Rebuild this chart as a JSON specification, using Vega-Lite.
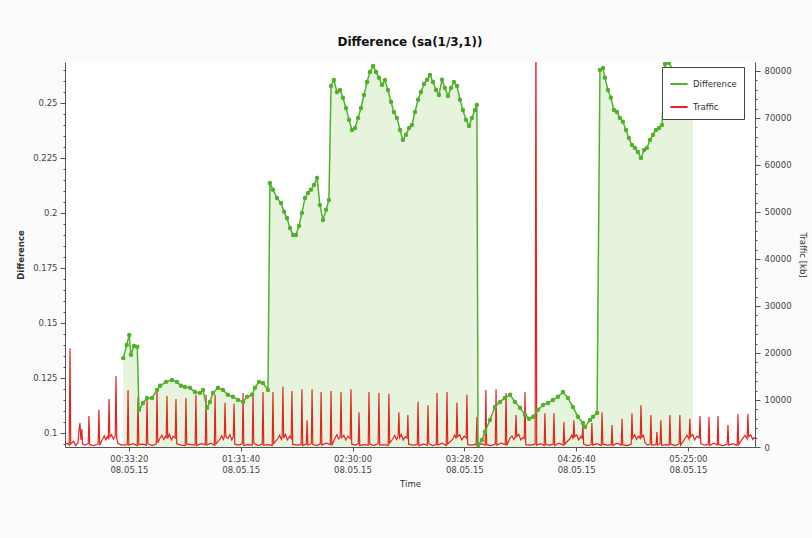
{
  "$schema": "https://vega.github.io/schema/vega-lite/v6.json",
  "autosize": {"type": "none"},
  "width": 690,
  "height": 385,
  "padding": {"left": 65, "top": 62, "right": 57, "bottom": 91},
  "background": "#fbfbfb",
  "title": {"text": "Difference (sa(1/3,1))", "font": "DejaVu Sans", "fontSize": 12, "fontWeight": "bold", "color": "#111", "anchor": "middle", "offset": 13},
  "config": {
    "view": {"fill": "#ffffff", "stroke": null},
    "axis": {"labelFont": "DejaVu Sans", "labelFontSize": 8.5, "labelColor": "#444", "titleFont": "DejaVu Sans", "titleFontSize": 8.5, "titleColor": "#333", "titleFontWeight": "bold", "domainColor": "#555", "tickColor": "#555", "grid": false}
  },
  "datasets": {
    "diff": [
      {"m":30.4,"v":0.1340},{"m":32.2,"v":0.1400},{"m":33.5,"v":0.1445},{"m":34.4,"v":0.1355},{"m":36.0,"v":0.1395},{"m":37.7,"v":0.1392},
      {"m":38.6,"v":0.1105},{"m":40.7,"v":0.1136},{"m":42.8,"v":0.1159},{"m":45.4,"v":0.1159},{"m":48.0,"v":0.1195},{"m":49.6,"v":0.1214},{"m":52.7,"v":0.1232},{"m":55.8,"v":0.1241},{"m":58.4,"v":0.1232},{"m":60.5,"v":0.1214},{"m":62.6,"v":0.1209},{"m":65.2,"v":0.1205},{"m":67.8,"v":0.1186},{"m":70.4,"v":0.1182},{"m":72.0,"v":0.1195},{"m":74.1,"v":0.1114},{"m":75.6,"v":0.1141},{"m":77.2,"v":0.1182},{"m":79.8,"v":0.1205},{"m":82.4,"v":0.1195},{"m":85.0,"v":0.1173},{"m":87.6,"v":0.1164},{"m":90.3,"v":0.1150},{"m":92.9,"v":0.1141},{"m":95.0,"v":0.1164},{"m":97.6,"v":0.1173},{"m":99.1,"v":0.1205},{"m":101.2,"v":0.1232},{"m":103.3,"v":0.1227},{"m":105.9,"v":0.1195},
      {"m":106.9,"v":0.2136},{"m":108.5,"v":0.2105},{"m":110.6,"v":0.2068},{"m":112.7,"v":0.2045},{"m":114.3,"v":0.2005},{"m":115.8,"v":0.1977},{"m":117.4,"v":0.1932},{"m":119.0,"v":0.1900},{"m":120.5,"v":0.1900},{"m":122.1,"v":0.1941},{"m":123.6,"v":0.2000},{"m":125.2,"v":0.2068},{"m":126.8,"v":0.2091},{"m":128.3,"v":0.2105},{"m":129.9,"v":0.2127},{"m":131.5,"v":0.2159},{"m":133.0,"v":0.2036},{"m":134.6,"v":0.1968},{"m":136.2,"v":0.2014},{"m":137.7,"v":0.2059},
      {"m":138.8,"v":0.2577},{"m":140.3,"v":0.2604},{"m":141.9,"v":0.2550},{"m":143.5,"v":0.2559},{"m":145.0,"v":0.2523},{"m":146.6,"v":0.2477},{"m":148.2,"v":0.2423},{"m":149.7,"v":0.2377},{"m":151.3,"v":0.2386},{"m":152.9,"v":0.2432},{"m":154.4,"v":0.2477},{"m":156.0,"v":0.2536},{"m":157.6,"v":0.2595},{"m":159.1,"v":0.2641},{"m":160.7,"v":0.2668},{"m":162.3,"v":0.2641},{"m":163.8,"v":0.2614},{"m":165.4,"v":0.2582},{"m":166.9,"v":0.2604},{"m":168.5,"v":0.2559},{"m":170.1,"v":0.2505},{"m":171.6,"v":0.2459},{"m":173.2,"v":0.2432},{"m":174.8,"v":0.2377},{"m":176.3,"v":0.2332},{"m":177.9,"v":0.2355},{"m":179.5,"v":0.2386},{"m":181.0,"v":0.2400},{"m":182.6,"v":0.2459},{"m":184.2,"v":0.2514},{"m":185.7,"v":0.2550},{"m":187.3,"v":0.2586},{"m":188.9,"v":0.2605},{"m":190.4,"v":0.2627},{"m":192.0,"v":0.2595},{"m":193.6,"v":0.2559},{"m":195.1,"v":0.2536},{"m":196.7,"v":0.2605},{"m":198.2,"v":0.2568},{"m":199.8,"v":0.2532},{"m":201.4,"v":0.2568},{"m":202.9,"v":0.2595},{"m":204.5,"v":0.2577},{"m":206.1,"v":0.2514},{"m":207.6,"v":0.2468},{"m":209.2,"v":0.2423},{"m":210.8,"v":0.2395},{"m":212.3,"v":0.2432},{"m":213.9,"v":0.2468},{"m":214.9,"v":0.2491},
      {"m":215.5,"v":0.0945},{"m":217.5,"v":0.0968},{"m":219.1,"v":0.1005},{"m":221.7,"v":0.1059},{"m":224.3,"v":0.1118},{"m":226.9,"v":0.1141},{"m":229.5,"v":0.1159},{"m":232.2,"v":0.1173},{"m":234.8,"v":0.1141},{"m":237.4,"v":0.1114},{"m":240.0,"v":0.1082},{"m":242.1,"v":0.1064},{"m":244.2,"v":0.1073},{"m":246.8,"v":0.1105},{"m":249.4,"v":0.1127},{"m":252.0,"v":0.1136},{"m":254.6,"v":0.1150},{"m":257.2,"v":0.1164},{"m":259.8,"v":0.1186},{"m":262.4,"v":0.1159},{"m":265.0,"v":0.1118},{"m":267.6,"v":0.1073},{"m":270.2,"v":0.1045},{"m":271.3,"v":0.1027},{"m":273.9,"v":0.1059},{"m":275.5,"v":0.1073},{"m":277.6,"v":0.1091},
      {"m":279.1,"v":0.2650},{"m":280.7,"v":0.2659},{"m":281.7,"v":0.2614},{"m":283.3,"v":0.2559},{"m":284.8,"v":0.2523},{"m":286.4,"v":0.2468},{"m":288.0,"v":0.2459},{"m":289.5,"v":0.2432},{"m":291.1,"v":0.2414},{"m":292.7,"v":0.2377},{"m":294.2,"v":0.2341},{"m":295.8,"v":0.2309},{"m":297.4,"v":0.2295},{"m":298.9,"v":0.2277},{"m":300.5,"v":0.2250},{"m":302.1,"v":0.2286},{"m":303.6,"v":0.2295},{"m":305.2,"v":0.2332},{"m":306.8,"v":0.2355},{"m":308.3,"v":0.2377},{"m":309.9,"v":0.2386},{"m":311.5,"v":0.2400},{"m":313.0,"v":0.2677},{"m":315.1,"v":0.2682},{"m":317.2,"v":0.2650},{"m":320.8,"v":0.2627},{"m":324.5,"v":0.2640},{"m":327.6,"v":0.2650}
    ],
    "traf": [
      {"m":0,"v":500},{"m":1.2,"v":800},{"m":2.2,"v":400},{"m":2.6,"v":21000},{"m":3.0,"v":600},{"m":4.5,"v":1200},{"m":5.5,"v":300},{"m":6.8,"v":900},{"m":7.3,"v":3500},{"m":7.8,"v":5100},{"m":8.3,"v":1500},{"m":8.8,"v":3800},{"m":9.2,"v":600},{"m":10.5,"v":400},{"m":12.1,"v":700},{"m":12.5,"v":6600},{"m":12.9,"v":500},{"m":15,"v":300},{"m":17.3,"v":600},{"m":17.7,"v":7900},{"m":18.1,"v":400},{"m":19.8,"v":1800},{"m":20.5,"v":2400},{"m":21.3,"v":1500},{"m":22.0,"v":2200},{"m":22.6,"v":1800},{"m":23.0,"v":10200},{"m":23.4,"v":2100},{"m":24.3,"v":2600},{"m":25.2,"v":1700},{"m":26.2,"v":2300},{"m":26.6,"v":15100},{"m":27.0,"v":1900},{"m":27.6,"v":800},{"m":29.5,"v":400},{"m":32.5,"v":500},{"m":32.9,"v":12100},{"m":33.3,"v":400},{"m":35.5,"v":700},{"m":37.7,"v":300},{"m":38.1,"v":10600},{"m":38.5,"v":500},{"m":40.5,"v":600},{"m":42.4,"v":400},{"m":42.8,"v":10400},{"m":43.2,"v":700},{"m":45.5,"v":300},{"m":47.6,"v":600},{"m":48.0,"v":12100},{"m":48.4,"v":900},{"m":49.6,"v":1900},{"m":50.5,"v":2500},{"m":51.5,"v":1600},{"m":52.3,"v":2200},{"m":52.8,"v":2000},{"m":53.2,"v":10900},{"m":53.6,"v":1800},{"m":54.5,"v":2700},{"m":55.5,"v":1500},{"m":56.5,"v":2300},{"m":57.5,"v":1900},{"m":57.9,"v":10200},{"m":58.3,"v":700},{"m":60.5,"v":400},{"m":62.7,"v":300},{"m":63.1,"v":10400},{"m":63.5,"v":600},{"m":65.7,"v":500},{"m":67.9,"v":400},{"m":68.3,"v":11100},{"m":68.7,"v":300},{"m":71,"v":700},{"m":73.2,"v":500},{"m":73.6,"v":11100},{"m":74.0,"v":400},{"m":76,"v":800},{"m":77.9,"v":400},{"m":78.3,"v":11100},{"m":78.7,"v":600},{"m":80.9,"v":1700},{"m":81.8,"v":2400},{"m":82.6,"v":1600},{"m":83.1,"v":2100},{"m":83.5,"v":9400},{"m":83.9,"v":2300},{"m":85.0,"v":1800},{"m":86.0,"v":2600},{"m":87.0,"v":1500},{"m":87.8,"v":2200},{"m":88.2,"v":9200},{"m":88.6,"v":600},{"m":90.5,"v":400},{"m":92.5,"v":700},{"m":92.9,"v":11500},{"m":93.3,"v":300},{"m":95.5,"v":500},{"m":97.7,"v":400},{"m":98.1,"v":11500},{"m":98.5,"v":800},{"m":100.7,"v":300},{"m":102.9,"v":600},{"m":103.3,"v":11700},{"m":103.7,"v":400},{"m":106,"v":500},{"m":108.1,"v":300},{"m":108.5,"v":11700},{"m":108.9,"v":700},{"m":111.1,"v":1800},{"m":112,"v":2500},{"m":112.9,"v":1600},{"m":113.3,"v":2200},{"m":113.7,"v":12800},{"m":114.1,"v":1900},{"m":115,"v":2700},{"m":116,"v":1500},{"m":117.2,"v":2300},{"m":118.0,"v":1800},{"m":118.4,"v":11900},{"m":118.8,"v":600},{"m":121,"v":400},{"m":123.2,"v":500},{"m":123.6,"v":12300},{"m":124,"v":300},{"m":125.9,"v":600},{"m":126.3,"v":5700},{"m":126.7,"v":400},{"m":128.5,"v":700},{"m":128.9,"v":12300},{"m":129.3,"v":500},{"m":131.2,"v":300},{"m":133.2,"v":600},{"m":133.6,"v":11700},{"m":134,"v":400},{"m":136.4,"v":800},{"m":138.4,"v":500},{"m":138.8,"v":11900},{"m":139.2,"v":300},{"m":140.9,"v":1900},{"m":141.8,"v":2600},{"m":142.8,"v":1700},{"m":143.6,"v":2200},{"m":144.0,"v":11700},{"m":144.4,"v":2000},{"m":145.5,"v":2500},{"m":146.5,"v":1500},{"m":147.7,"v":2300},{"m":148.8,"v":1800},{"m":149.2,"v":12300},{"m":149.6,"v":600},{"m":151.5,"v":400},{"m":153,"v":700},{"m":153.4,"v":7400},{"m":153.8,"v":300},{"m":156,"v":500},{"m":158.2,"v":400},{"m":158.6,"v":11700},{"m":159,"v":600},{"m":161.2,"v":300},{"m":163.4,"v":700},{"m":163.8,"v":11500},{"m":164.2,"v":400},{"m":166.5,"v":500},{"m":168.6,"v":300},{"m":169.0,"v":11300},{"m":169.4,"v":800},{"m":171.1,"v":1800},{"m":172,"v":2500},{"m":173,"v":1600},{"m":173.8,"v":2300},{"m":174.2,"v":7400},{"m":174.6,"v":2000},{"m":175.5,"v":2700},{"m":176.5,"v":1500},{"m":177.5,"v":2200},{"m":178.5,"v":1900},{"m":178.9,"v":6800},{"m":179.3,"v":600},{"m":181.5,"v":400},{"m":183.8,"v":500},{"m":184.2,"v":9600},{"m":184.6,"v":300},{"m":187,"v":600},{"m":189,"v":400},{"m":189.4,"v":8900},{"m":189.8,"v":700},{"m":191.8,"v":300},{"m":193.7,"v":500},{"m":194.1,"v":11500},{"m":194.5,"v":400},{"m":196.7,"v":800},{"m":198.9,"v":300},{"m":199.3,"v":11700},{"m":199.7,"v":600},{"m":202.4,"v":1700},{"m":203.3,"v":2500},{"m":204.1,"v":1800},{"m":204.5,"v":9400},{"m":204.9,"v":2200},{"m":206,"v":2600},{"m":207,"v":1500},{"m":208.3,"v":2300},{"m":209.3,"v":1900},{"m":209.7,"v":11100},{"m":210.1,"v":500},{"m":212.5,"v":400},{"m":214.5,"v":600},{"m":214.9,"v":6400},{"m":215.3,"v":300},{"m":217.2,"v":700},{"m":219.2,"v":400},{"m":219.6,"v":12100},{"m":220,"v":500},{"m":222.2,"v":300},{"m":224.5,"v":600},{"m":224.9,"v":12300},{"m":225.3,"v":400},{"m":227.5,"v":800},{"m":229.7,"v":500},{"m":230.1,"v":11500},{"m":230.5,"v":300},{"m":232.2,"v":1900},{"m":233.2,"v":2400},{"m":234.2,"v":1600},{"m":234.9,"v":2100},{"m":235.3,"v":6800},{"m":235.7,"v":2200},{"m":236.7,"v":2700},{"m":237.8,"v":1500},{"m":238.9,"v":2000},{"m":239.6,"v":1800},{"m":240.0,"v":11700},{"m":240.4,"v":500},{"m":242.8,"v":400},{"m":245.3,"v":600},{"m":245.7,"v":95000},{"m":246.1,"v":400},{"m":248.2,"v":700},{"m":250,"v":300},{"m":250.4,"v":7200},{"m":250.8,"v":500},{"m":252.7,"v":400},{"m":254.7,"v":600},{"m":255.1,"v":7200},{"m":255.5,"v":300},{"m":257.7,"v":800},{"m":259.9,"v":400},{"m":260.3,"v":5300},{"m":260.7,"v":600},{"m":263.5,"v":1800},{"m":264.4,"v":2500},{"m":265.1,"v":1700},{"m":265.5,"v":5700},{"m":265.9,"v":2200},{"m":267,"v":2600},{"m":268,"v":1500},{"m":269.2,"v":2300},{"m":269.8,"v":1900},{"m":270.2,"v":4700},{"m":270.6,"v":600},{"m":272.5,"v":300},{"m":274.5,"v":500},{"m":274.9,"v":5100},{"m":275.3,"v":400},{"m":277.5,"v":700},{"m":279.8,"v":300},{"m":280.2,"v":7400},{"m":280.6,"v":600},{"m":283,"v":400},{"m":285,"v":500},{"m":285.4,"v":4700},{"m":285.8,"v":300},{"m":288,"v":800},{"m":290.2,"v":400},{"m":290.6,"v":6000},{"m":291,"v":500},{"m":293.5,"v":300},{"m":295.4,"v":600},{"m":295.8,"v":7200},{"m":296.2,"v":1900},{"m":297.2,"v":2600},{"m":298.2,"v":1600},{"m":299.2,"v":2300},{"m":300.1,"v":1800},{"m":300.5,"v":8900},{"m":300.9,"v":2100},{"m":301.8,"v":2500},{"m":302.6,"v":900},{"m":304,"v":400},{"m":305.3,"v":600},{"m":305.7,"v":6800},{"m":306.1,"v":400},{"m":308.4,"v":500},{"m":308.8,"v":3200},{"m":309.2,"v":400},{"m":310.5,"v":700},{"m":310.9,"v":5700},{"m":311.3,"v":300},{"m":313.5,"v":500},{"m":315.2,"v":400},{"m":315.6,"v":6800},{"m":316,"v":600},{"m":318.5,"v":300},{"m":320.4,"v":700},{"m":320.8,"v":6800},{"m":321.2,"v":400},{"m":323.5,"v":1800},{"m":324.5,"v":2500},{"m":325.6,"v":1700},{"m":326,"v":6000},{"m":326.4,"v":2200},{"m":327.5,"v":2700},{"m":328.5,"v":1500},{"m":329.8,"v":2300},{"m":330.9,"v":1900},{"m":331.3,"v":6600},{"m":331.7,"v":700},{"m":333.5,"v":400},{"m":335.6,"v":500},{"m":336,"v":6400},{"m":336.4,"v":300},{"m":338.5,"v":800},{"m":340.3,"v":400},{"m":340.7,"v":6600},{"m":341.1,"v":500},{"m":343.5,"v":300},{"m":345.5,"v":600},{"m":345.9,"v":4700},{"m":346.3,"v":400},{"m":348.5,"v":700},{"m":350.7,"v":300},{"m":351.1,"v":7000},{"m":351.5,"v":500},{"m":353.7,"v":1900},{"m":354.8,"v":2500},{"m":355.9,"v":1700},{"m":356.3,"v":7000},{"m":356.7,"v":2200},{"m":357.8,"v":2600},{"m":358.8,"v":1600},{"m":359.5,"v":2000},{"m":360,"v":1800}
    ]
  },
  "layer": [
    {
      "data": {"name": "diff"},
      "mark": {"type": "area", "color": "#e6f4dd", "clip": true},
      "encoding": {
        "x": {"field": "m", "type": "quantitative", "scale": {"domain": [0, 360], "nice": false},
          "axis": {"title": "Time", "values": [33.333333, 91.666667, 150, 208.333333, 266.666667, 325],
            "labelExpr": "[utcFormat(round(datum.value*60)*1000, '%H:%M:%S'), '08.05.15']",
            "labelLineHeight": 11, "labelPadding": 3, "tickSize": 4, "titlePadding": 6, "titleFontWeight": "normal"}},
        "y": {"field": "v", "type": "quantitative", "scale": {"domain": [0.0936, 0.2686], "nice": false, "zero": false}, "axis": null}
      }
    },
    {
      "data": {"name": "traf"},
      "mark": {"type": "line", "strokeWidth": 1.2, "clip": true},
      "encoding": {
        "x": {"field": "m", "type": "quantitative", "scale": {"domain": [0, 360], "nice": false}},
        "y": {"field": "v", "type": "quantitative", "scale": {"domain": [0, 81900], "nice": false},
          "axis": {"orient": "right", "title": "Traffic [kb]", "values": [0,2000,4000,6000,8000,10000,12000,14000,16000,18000,20000,22000,24000,26000,28000,30000,32000,34000,36000,38000,40000,42000,44000,46000,48000,50000,52000,54000,56000,58000,60000,62000,64000,66000,68000,70000,72000,74000,76000,78000,80000],
            "labelExpr": "datum.value % 10000 == 0 ? '' + datum.value : ''",
            "tickSize": {"condition": {"test": "datum.value % 10000 == 0", "value": 5}, "value": 2},
            "labelPadding": 4, "titlePadding": 6, "titleFontWeight": "normal"}},
        "color": {"datum": "Traffic"}
      }
    },
    {
      "data": {"name": "diff"},
      "mark": {"type": "line", "strokeWidth": 1.5, "clip": true, "point": {"filled": true, "size": 20}},
      "encoding": {
        "x": {"field": "m", "type": "quantitative", "scale": {"domain": [0, 360], "nice": false}},
        "y": {"field": "v", "type": "quantitative", "scale": {"domain": [0.0936, 0.2686], "nice": false, "zero": false},
          "axis": {"orient": "left", "title": "Difference", "values": [0.095,0.1,0.105,0.11,0.115,0.12,0.125,0.13,0.135,0.14,0.145,0.15,0.155,0.16,0.165,0.17,0.175,0.18,0.185,0.19,0.195,0.2,0.205,0.21,0.215,0.22,0.225,0.23,0.235,0.24,0.245,0.25,0.255,0.26,0.265],
            "labelExpr": "abs(datum.value*40 - round(datum.value*40)) < 0.01 ? format(datum.value, '~g') : ''",
            "tickSize": {"condition": {"test": "abs(datum.value*40 - round(datum.value*40)) < 0.01", "value": 5}, "value": 2},
            "labelPadding": 3, "titlePadding": 7}},
        "color": {"datum": "Difference", "scale": {"domain": ["Difference", "Traffic"], "range": ["#52b02c", "#e52420"]},
          "legend": {"title": null, "orient": "none", "legendX": 597, "legendY": 5, "symbolType": "stroke", "symbolStrokeWidth": 2, "symbolSize": 300,
            "labelFont": "DejaVu Sans", "labelFontSize": 8.5, "labelColor": "#333", "strokeColor": "#444", "fillColor": "#ffffff", "padding": 7, "rowPadding": 8}}
      }
    }
  ],
  "resolve": {"scale": {"y": "independent"}, "axis": {"y": "independent"}}
}
